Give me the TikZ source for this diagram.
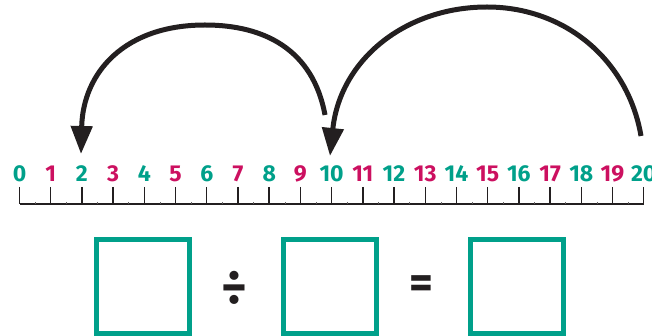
\documentclass[tikz,border=0pt]{standalone}
\usepackage{fontspec}
\setmainfont{Fira Sans}
\usetikzlibrary{arrows.meta}
\definecolor{teal1}{HTML}{00A08A}
\definecolor{mag1}{HTML}{CC1060}
\definecolor{ink}{HTML}{231F20}
\tikzset{
  numlab/.style={font=\fontsize{23}{23}\selectfont\bfseries, inner sep=0pt, anchor=center},
  ansbox/.style={draw=teal1, line width=5pt, minimum width=93pt, minimum height=93pt, inner sep=0pt},
  jump/.style={draw=ink, line width=5pt, -{Triangle[length=28pt,width=21pt]}},
  tickln/.style={draw=ink, line width=1.4pt},
  opsym/.style={text=ink, inner sep=0pt}
}
\begin{document}
\begin{tikzpicture}[x=1pt,y=-1pt]
\useasboundingbox (0,0) rectangle (652,336);
% number line
\coordinate (L0) at (19.5,204);
\coordinate (L20) at (643.7,204);
\draw[tickln] (L0) -- (L20);
\foreach \i in {0,...,20}{
  \pgfmathsetmacro{\xx}{19.5+31.21*\i}
  \draw[tickln] (\xx,187) -- (\xx,204);
  \pgfmathtruncatemacro{\odd}{mod(\i,2)}
  \ifnum\odd=1
    \node[numlab, text=mag1] (n\i) at (\xx,173.5) {\i};
  \else
    \node[numlab, text=teal1] (n\i) at (\xx,173.5) {\i};
  \fi
}
\foreach \i in {0,...,19}{
  \pgfmathsetmacro{\xx}{19.5+31.21*\i+15.6}
  \draw[draw=ink!70, line width=0.5pt] (\xx,202.5) -- (\xx,204);
}
% jumps
\coordinate (s1) at (325,115);
\coordinate (t1) at (205,25);
\coordinate (e1) at (81,154);
\draw[jump] (s1) .. controls (313,50) and (265,25) .. (t1) .. controls (125,25) and (83,72) .. (e1);
\coordinate (s2) at (641,136);
\coordinate (t2) at (487,7);
\coordinate (e2) at (330,156);
\draw[jump] (s2) .. controls (628,60) and (565,7) .. (t2) .. controls (405,7) and (340,60) .. (e2);
% equation boxes
\node[ansbox] (b1) at (143,286.5) {};
\node[ansbox] (b2) at (329.5,286.5) {};
\node[ansbox] (b3) at (517,286.5) {};
\node[opsym, font=\fontsize{50}{50}\selectfont\bfseries] (div) at (234.3,287.5) {÷};
\node[opsym, font=\fontsize{46}{46}\selectfont\bfseries] (eq) at (421.3,287.5) {=};
\end{tikzpicture}
\end{document}
